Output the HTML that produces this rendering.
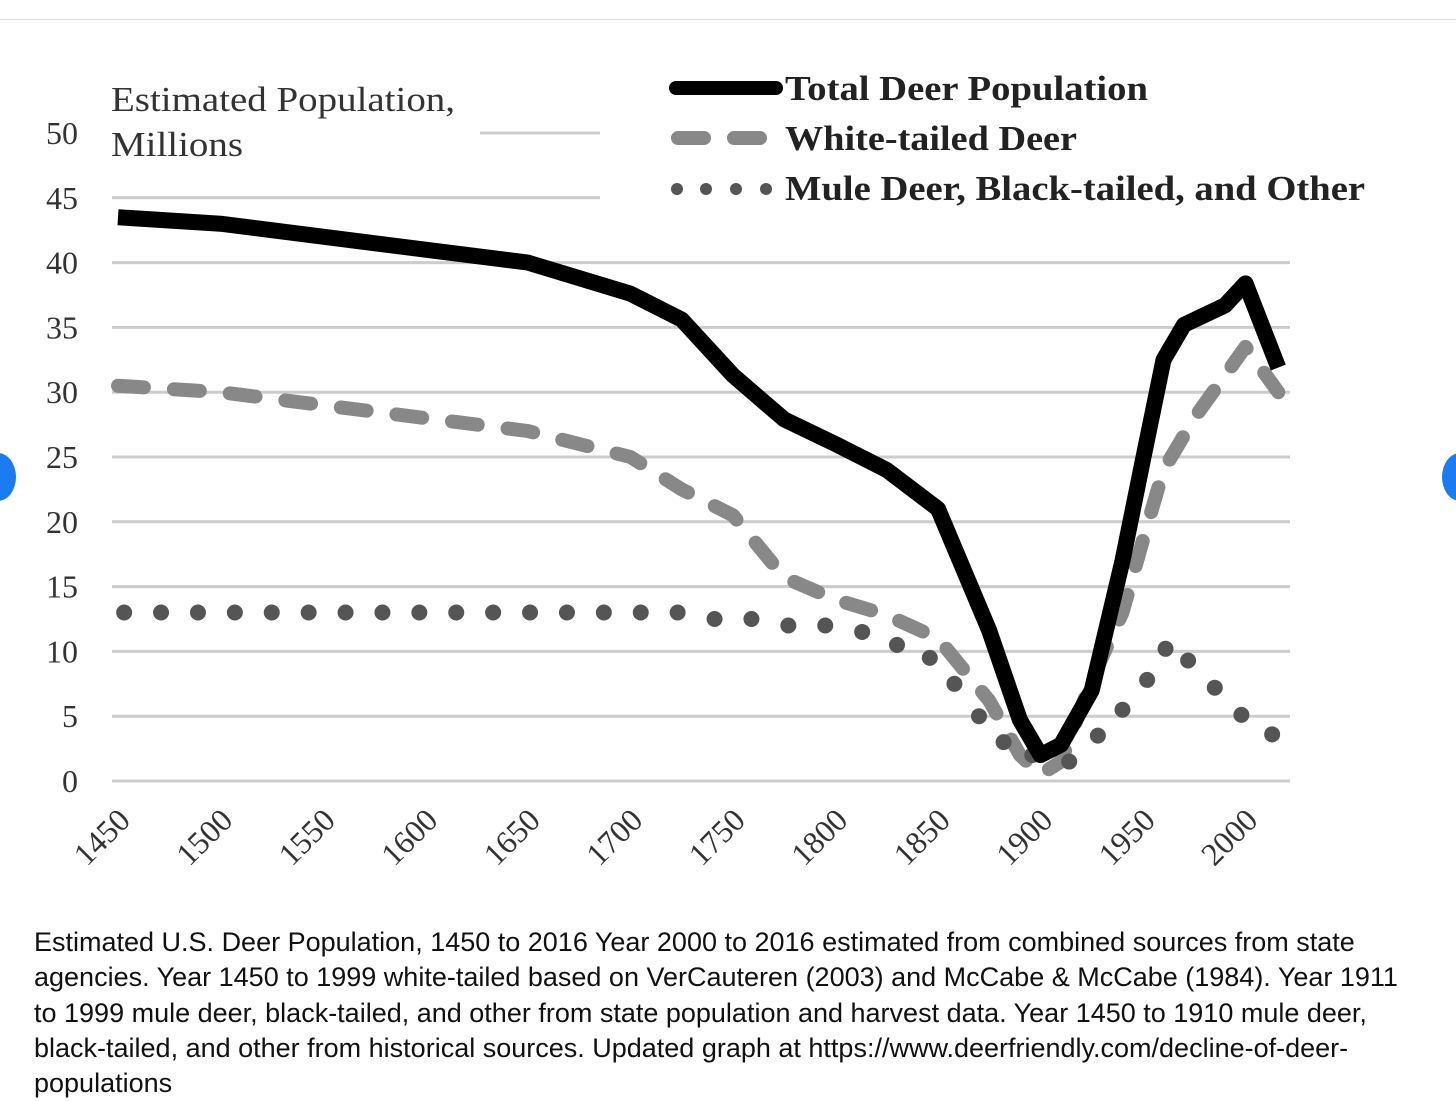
<!DOCTYPE html>
<html><head><meta charset="utf-8">
<style>
body{margin:0;background:#fff;width:1456px;height:1100px;overflow:hidden;position:relative;font-family:"Liberation Sans",sans-serif}
#cap{position:absolute;left:34px;top:925px;width:1380px;font-size:27px;line-height:35.3px;color:#111}
</style></head><body>
<div style="position:absolute;left:0;top:19px;width:1456px;height:1px;background:#ddd"></div>
<div style="position:absolute;left:-20px;top:453px;width:36px;height:48px;border-radius:50%;background:#1a7cf0"></div>
<div style="position:absolute;left:1442px;top:453px;width:36px;height:48px;border-radius:50%;background:#1a7cf0"></div>
<svg id="chart" width="1456" height="920" style="position:absolute;left:0;top:0" font-family="Liberation Serif, serif">
<g id="grid"></g><g id="yt"></g><g id="xt"></g><g id="series"></g>
<text x="111" y="111" font-size="35" fill="#333" textLength="344" lengthAdjust="spacingAndGlyphs">Estimated Population,</text>
<text x="111" y="156" font-size="35" fill="#333" textLength="132" lengthAdjust="spacingAndGlyphs">Millions</text>
<g font-weight="bold" font-size="35" fill="#222">
<line x1="676" y1="88" x2="776" y2="88" stroke="#000" stroke-width="14" stroke-linecap="round"/>
<text x="785" y="100" textLength="363" lengthAdjust="spacingAndGlyphs">Total Deer Population</text>
<line x1="678" y1="138" x2="772" y2="138" stroke="#888" stroke-width="14" stroke-linecap="round" stroke-dasharray="26 30"/>
<text x="785" y="150" textLength="292" lengthAdjust="spacingAndGlyphs">White-tailed Deer</text>
<g fill="#555"><circle cx="677" cy="189" r="6"/><circle cx="706" cy="189" r="6"/><circle cx="736" cy="189" r="6"/><circle cx="766" cy="189" r="6"/></g>
<text x="785" y="200" textLength="580" lengthAdjust="spacingAndGlyphs">Mule Deer, Black-tailed, and Other</text>
</g>
</svg>
<div id="cap">Estimated U.S. Deer Population, 1450 to 2016 Year 2000 to 2016 estimated from combined sources from state agencies. Year 1450 to 1999 white-tailed based on VerCauteren (2003) and McCabe &amp; McCabe (1984). Year 1911 to 1999 mule deer, black-tailed, and other from state population and harvest data. Year 1450 to 1910 mule deer, black-tailed, and other from historical sources. Updated graph at https://www.deerfriendly.com/decline-of-deer-populations</div>
<script>
const yTicks=[0,5,10,15,20,25,30,35,40,45,50];
const xTicks=[1450,1500,1550,1600,1650,1700,1750,1800,1850,1900,1950,2000];
const totalYears=[1450,1500,1550,1600,1650,1700,1725,1750,1775,1800,1825,1850,1875,1890,1900,1910,1925,1940,1950,1960,1970,1990,2000,2016];
const totalVals=[43.5,43,42,41,40,37.6,35.6,31.3,27.9,26,24,21,11.6,4.7,2,2.8,7,17,24.8,32.5,35.2,36.7,38.4,31.9];
const whiteYears=[1450,1500,1550,1600,1650,1700,1725,1750,1775,1800,1825,1850,1875,1890,1900,1910,1925,1940,1950,1960,1975,2000,2016];
const whiteVals=[30.5,30,29,28,27,25,22.5,20.5,15.7,14,12.8,11,6.2,2,0.5,1.5,7.8,13,18.6,24,28,33.5,30];
const muleYears=[1453,1471,1489,1507,1525,1543,1561,1579,1597,1615,1633,1651,1669,1687,1705,1723,1741,1759,1777,1795,1813,1830,1846,1858,1870,1882,1896,1914,1928,1940,1952,1961,1972,1985,1998,2013];
const muleVals=[13,13,13,13,13,13,13,13,13,13,13,13,13,13,13,13,12.5,12.5,12,12,11.5,10.5,9.5,7.5,5,3,2,1.5,3.5,5.5,7.8,10.2,9.3,7.2,5.1,3.6];
const NS="http://www.w3.org/2000/svg";
const X=y=>118+(y-1450)*2.05, Y=v=>781-v*12.96;
function mk(t,a,p){const e=document.createElementNS(NS,t);for(const k in a)e.setAttribute(k,a[k]);p.appendChild(e);return e;}
const grid=document.getElementById('grid'),yt=document.getElementById('yt'),xt=document.getElementById('xt'),S=document.getElementById('series');
yTicks.forEach(v=>{
 let x1=112,x2=1290; if(v==45){x2=600;} if(v==50){x1=480;x2=600;}
 const l=mk('line',{x1:x1,x2:x2,y1:Y(v),y2:Y(v),stroke:'#ccc','stroke-width':3},grid);
 
 
 const t=mk('text',{x:78,y:Y(v)+11,'text-anchor':'end','font-size':32,fill:'#333'},yt);t.textContent=v;
 
 
});
xTicks.forEach(v=>{
 const x=X(v)+14, y=822;
 const t=mk('text',{x:x,y:y,'text-anchor':'end','font-size':32,fill:'#333',transform:`rotate(-45 ${x} ${y})`},xt);t.textContent=v;
 
 
});
function path(ys,vs){return ys.map((y,i)=>(i?'L':'M')+X(y)+','+Y(vs[i])).join(' ');}
const w=mk('path',{d:path(whiteYears,whiteVals),fill:'none',stroke:'#888','stroke-width':14,'stroke-linecap':'round','stroke-linejoin':'round','stroke-dasharray':'26 30'},S);


muleYears.forEach((y,i)=>{const c=mk('circle',{cx:X(y),cy:Y(muleVals[i]),r:8,fill:'#555'},S);
 
 });
const t=mk('path',{d:path(totalYears,totalVals),fill:'none',stroke:'#000','stroke-width':16,'stroke-linejoin':'round'},S);


</script>
</body></html>
